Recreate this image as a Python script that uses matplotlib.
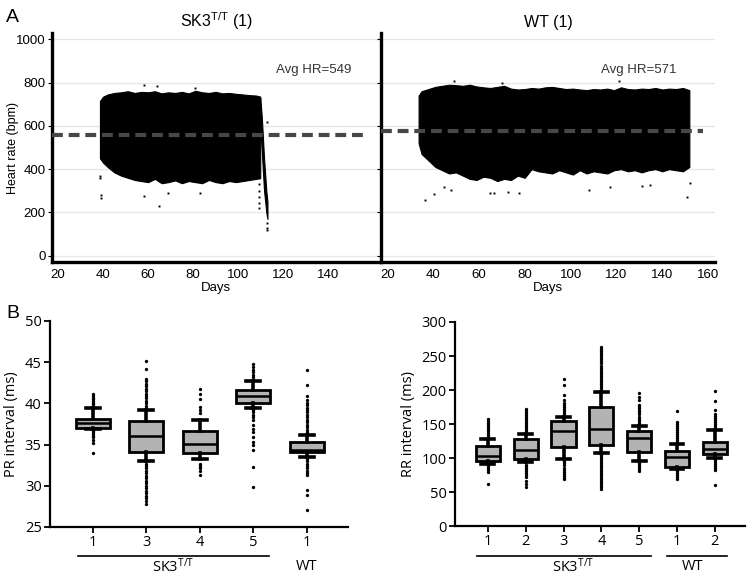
import matplotlib
matplotlib.use("Agg")
import matplotlib.pyplot as plt
import matplotlib.transforms as mtransforms

# ---------------- data: heart-rate telemetry (envelopes) --------------
sk3_days = [38.6, 40, 42, 45, 48, 51, 54, 57, 60, 63, 66, 69, 72, 75, 78, 81, 84, 87, 90, 93,
            96, 99, 102, 105, 108, 109.8]
sk3_upper = [715, 735, 745, 752, 755, 760, 752, 757, 755, 760, 750, 755, 752, 757, 750, 762,
             755, 752, 757, 750, 752, 748, 745, 742, 740, 735]
sk3_lower = [450, 430, 410, 385, 370, 360, 350, 345, 340, 355, 335, 340, 348, 335, 345, 340,
             335, 350, 340, 335, 345, 340, 345, 350, 355, 360]
sk3_drop_days = [109.8, 110.5, 111.5, 112.5, 113.0]
sk3_drop_upper = [730, 640, 450, 300, 250]
sk3_drop_lower = [600, 480, 300, 200, 170]
sk3_out_days = [38.8, 38.8, 39.0, 39.0, 58, 65, 69, 83, 58, 64, 81, 109.3, 109.3, 109.3,
                109.3, 109.3, 109.3, 109.3, 113, 113, 113, 112.6]
sk3_out_hr = [370, 360, 280, 265, 275, 232, 292, 290, 790, 785, 775, 220, 245, 270, 300,
              330, 360, 390, 120, 130, 150, 620]
sk3_avg = 560
sk3_avg_label = "Avg HR=549"

wt_days = [33.7, 35, 38, 41, 44, 47, 50, 53, 56, 59, 62, 65, 68, 71, 74, 77, 80, 83, 86, 89,
           92, 95, 98, 101, 104, 107, 110, 113, 116, 119, 122, 125, 128, 131, 134, 137, 140,
           143, 146, 149, 151.8]
wt_upper = [740, 760, 770, 780, 785, 790, 788, 785, 790, 782, 778, 775, 780, 785, 772, 768,
            770, 775, 772, 778, 780, 775, 770, 772, 768, 765, 770, 768, 772, 765, 778, 770,
            768, 772, 770, 775, 768, 772, 770, 775, 765]
wt_lower = [520, 470, 440, 410, 395, 380, 385, 370, 355, 350, 365, 360, 345, 355, 350, 370,
            360, 400, 390, 385, 380, 395, 385, 375, 395, 380, 390, 385, 380, 395, 400, 390,
            395, 385, 395, 400, 390, 400, 395, 390, 410]
wt_out_days = [36.6, 40.6, 44.6, 48, 65, 66.5, 72.7, 77.3, 108, 117.4, 131, 134.6, 150.6, 152,
               49, 70, 121]
wt_out_hr = [257, 284, 319, 305, 291, 291, 296, 291, 304, 316, 322, 329, 270, 335,
             805, 800, 805]
wt_avg = 575
wt_avg_label = "Avg HR=571"

# ---------------- data: PR interval box plots ----------------
pr_labels = ["1", "3", "4", "5", "1"]
pr_med = [37.6, 36.05, 35.1, 40.86, 34.4]
pr_q1 = [37.0, 34.07, 34.0, 40.1, 34.1]
pr_q3 = [38.15, 37.9, 36.6, 41.67, 35.3]
pr_lo = [36.9, 32.97, 33.2, 39.4, 33.5]
pr_hi = [39.5, 39.16, 38.0, 42.7, 36.2]
pr_fliers = [
    [39.7, 39.9, 40.1, 40.3, 40.5, 40.7, 40.9, 41.2, 36.7, 36.5, 36.3, 36.1, 35.9, 35.6,
     35.2, 34.0],
    [39.4, 39.7, 40.0, 40.3, 40.6, 40.9, 41.2, 41.5, 41.8, 42.1, 42.4, 42.7, 43.0, 44.2, 45.2,
     32.7, 32.4, 32.1, 31.8, 31.5, 31.2, 30.9, 30.6, 30.3, 30.0, 29.7, 29.4, 29.1, 28.8,
     28.5, 28.2, 27.8],
    [38.8, 39.2, 39.6, 40.5, 41.2, 41.8, 32.7, 32.4, 32.1, 31.8, 31.35],
    [42.9, 43.2, 43.5, 43.8, 44.1, 44.4, 44.8, 39.2, 38.9, 38.6, 38.3, 38.0, 37.34, 36.9,
     36.5, 35.9, 35.3, 34.9, 34.3, 32.3, 29.85],
    [36.5, 36.8, 37.1, 37.4, 37.7, 38.0, 38.3, 38.6, 38.9, 39.2, 39.5, 39.8, 40.1, 40.4,
     40.9, 42.2, 44.1, 33.3, 33.0, 32.7, 32.4, 32.1, 31.8, 31.5, 31.3, 29.45, 28.85, 27.1],
]

# ---------------- data: RR interval box plots ----------------
rr_labels = ["1", "2", "3", "4", "5", "1", "2"]
rr_med = [103.3, 111.6, 139.5, 142, 129.7, 100.8, 112.6]
rr_q1 = [95.4, 98.4, 116.5, 119, 108.2, 87, 105.3]
rr_q3 = [117.5, 127.3, 154, 175.2, 139.5, 110, 122.9]
rr_lo = [91, 93.5, 98.4, 108, 96, 83.7, 100.3]
rr_hi = [127.8, 136, 160.5, 197, 146.8, 120, 141]
rr_fliers = [
    [131, 134, 137, 140, 143, 146, 149, 152, 155, 158, 88, 85, 82, 80, 61.7],
    [139, 142, 145, 148, 151, 154, 157, 160, 163, 166, 169, 172,
     90, 87, 84, 81, 78, 75, 72, 66, 62, 57.7],
    [163, 166, 169, 172, 175, 178, 181, 185, 192, 207, 216,
     95, 92, 89, 86, 83, 80, 77, 74, 71, 69],
    [200, 203, 206, 209, 212, 215, 218, 221, 224, 227, 230, 233, 236, 239, 242, 245, 248,
     251, 254, 257, 260, 263,
     105, 102, 99, 96, 93, 90, 87, 84, 81, 78, 75, 72, 69, 66, 63, 60, 57, 54],
    [149, 152, 155, 158, 161, 164, 167, 170, 173, 176, 178, 186, 190, 195, 93, 90, 87, 84, 81],
    [123, 126, 129, 132, 135, 138, 141, 144, 147, 150, 153, 169, 81, 78, 75, 72, 69],
    [144, 147, 150, 153, 156, 159, 162, 164, 171, 184, 199, 97, 94, 91, 88, 85, 82, 60],
]

# ---------------- figure ----------------
fig = plt.figure(figsize=(7.5, 5.76), dpi=100)
top_font = "Liberation Sans"
bot_font = "Open Sans"

ax1 = fig.add_axes([52 / 750, 1 - 262 / 576, 328 / 750, 229 / 576])
ax2 = fig.add_axes([381 / 750, 1 - 262 / 576, 334 / 750, 229 / 576])


def hr_panel(ax, days, up, lo, od, oh, avg, label, title, xticks, show_ylabels, xend, tx):
    ax.set_xlim(17.3, 163)
    ax.set_ylim(-29, 1029)
    ax.set_yticks([0, 200, 400, 600, 800, 1000])
    ax.grid(axis="y", color="#e6e6e6", lw=0.9, zorder=0)
    ax.fill_between(days, lo, up, color="black", lw=0.8, edgecolor="black", zorder=2)
    ax.plot(od, oh, "s", color="black", ms=1.4, mew=0, zorder=2)
    ax.plot([17.3, xend], [avg, avg], color="#474747", lw=3.0, dashes=(2.6, 1.4), zorder=3,
            solid_capstyle="butt", dash_capstyle="butt")
    ax.text(tx, 858, label, ha="center", va="center",
            fontsize=9.5, color="#333333", family=top_font)
    ax.set_title(title, fontsize=11.5, family=top_font, pad=4)
    ax.set_xticks(xticks)
    ax.set_xticklabels([str(t) for t in xticks], family=top_font, fontsize=9.5)
    ax.tick_params(axis="x", length=0, pad=5)
    ax.tick_params(axis="y", length=3, width=0.8, pad=1.5)
    if show_ylabels:
        ax.set_yticklabels([str(t) for t in [0, 200, 400, 600, 800, 1000]],
                           family=top_font, fontsize=9.5)
        ax.set_ylabel("Heart rate (bpm)", family=top_font, fontsize=9, labelpad=0)
    else:
        ax.set_yticklabels([])
    ax.set_xlabel("Days", family=top_font, fontsize=9.5, labelpad=1)
    for s in ["top", "right"]:
        ax.spines[s].set_visible(False)
    for s in ["left", "bottom"]:
        ax.spines[s].set_linewidth(2.4)


hr_panel(ax1, sk3_days, sk3_upper, sk3_lower, sk3_out_days, sk3_out_hr, sk3_avg,
         sk3_avg_label, r"$\mathregular{SK3^{T/T}}$ (1)", [20, 40, 60, 80, 100, 120, 140],
         True, 156, 133.4)
ax1.fill_between(sk3_drop_days, sk3_drop_lower, sk3_drop_upper, color="black", lw=0.8,
                 edgecolor="black", zorder=2)
hr_panel(ax2, wt_days, wt_upper, wt_lower, wt_out_days, wt_out_hr, wt_avg, wt_avg_label,
         "WT (1)", [20, 40, 60, 80, 100, 120, 140, 160], False, 157.6, 129.8)
ax1.yaxis.set_label_coords(-0.1, 0.5)

fig.text(6 / 750, 1 - 17 / 576, "A", fontsize=14, family=top_font, va="center")
fig.text(6 / 750, 1 - 313 / 576, "B", fontsize=14, family=top_font, va="center")

# ---------------- box plots ----------------
ax3 = fig.add_axes([50 / 750, 1 - 527 / 576, 298 / 750, 206 / 576])
ax4 = fig.add_axes([455 / 750, 1 - 526 / 576, 290 / 750, 204 / 576])


def box_panel(ax, med, q1, q3, lo, hi, fl, labels, ylim, yticks, ylabel, xlim, capw):
    stats = []
    for i in range(len(med)):
        stats.append(dict(med=med[i], q1=q1[i], q3=q3[i], whislo=lo[i], whishi=hi[i],
                          fliers=fl[i]))
    pos = list(range(1, len(med) + 1))
    ax.bxp(stats, positions=pos, widths=0.64, patch_artist=True, showfliers=True,
           boxprops=dict(facecolor="#b3b3b3", edgecolor="black", linewidth=2.0),
           medianprops=dict(color="black", linewidth=1.8),
           whiskerprops=dict(color="black", linewidth=2.6),
           capprops=dict(color="black", linewidth=2.6),
           capwidths=capw,
           flierprops=dict(marker="o", markersize=2.4, markerfacecolor="black",
                           markeredgecolor="black", markeredgewidth=0, linestyle="none"))
    ax.set_xlim(*xlim)
    ax.set_ylim(*ylim)
    ax.set_yticks(yticks)
    ax.set_yticklabels([str(t) for t in yticks], family=bot_font, fontsize=10.5)
    ax.set_xticks(pos)
    ax.set_xticklabels(labels, family=bot_font, fontsize=10.5)
    ax.set_ylabel(ylabel, family=bot_font, fontsize=10.5, labelpad=4)
    ax.tick_params(axis="both", length=4, width=1.3, pad=2)
    for s in ["top", "right"]:
        ax.spines[s].set_visible(False)
    for s in ["left", "bottom"]:
        ax.spines[s].set_linewidth(1.6)


box_panel(ax3, pr_med, pr_q1, pr_q3, pr_lo, pr_hi, pr_fliers, pr_labels, (25, 50),
          [25, 30, 35, 40, 45, 50], "PR interval (ms)", (0.2, 5.77), 0.26)
box_panel(ax4, rr_med, rr_q1, rr_q3, rr_lo, rr_hi, rr_fliers, rr_labels, (0, 300),
          [0, 50, 100, 150, 200, 250, 300], "RR interval (ms)", (0.13, 7.8), 0.34)

# group lines and labels
line_y = 1 - 556 / 576
text_y = 1 - 567 / 576
group_font = dict(family=bot_font, fontsize=10.5, ha="center", va="center")
t3 = mtransforms.blended_transform_factory(ax3.transData, fig.transFigure)
ax3.plot([0.72, 4.29], [line_y, line_y], color="black", lw=1.2, transform=t3, clip_on=False)
ax3.text(2.51, text_y, r"$\mathregular{SK3^{T/T}}$", transform=t3, **group_font)
ax3.text(5.0, text_y, "WT", transform=t3, **group_font)

t4 = mtransforms.blended_transform_factory(ax4.transData, fig.transFigure)
ax4.plot([0.71, 5.31], [line_y, line_y], color="black", lw=1.2, transform=t4, clip_on=False)
ax4.plot([5.74, 7.32], [line_y, line_y], color="black", lw=1.2, transform=t4, clip_on=False)
ax4.text(3.25, text_y, r"$\mathregular{SK3^{T/T}}$", transform=t4, **group_font)
ax4.text(6.4, text_y, "WT", transform=t4, **group_font)

fig.savefig("out.png", dpi=100)
